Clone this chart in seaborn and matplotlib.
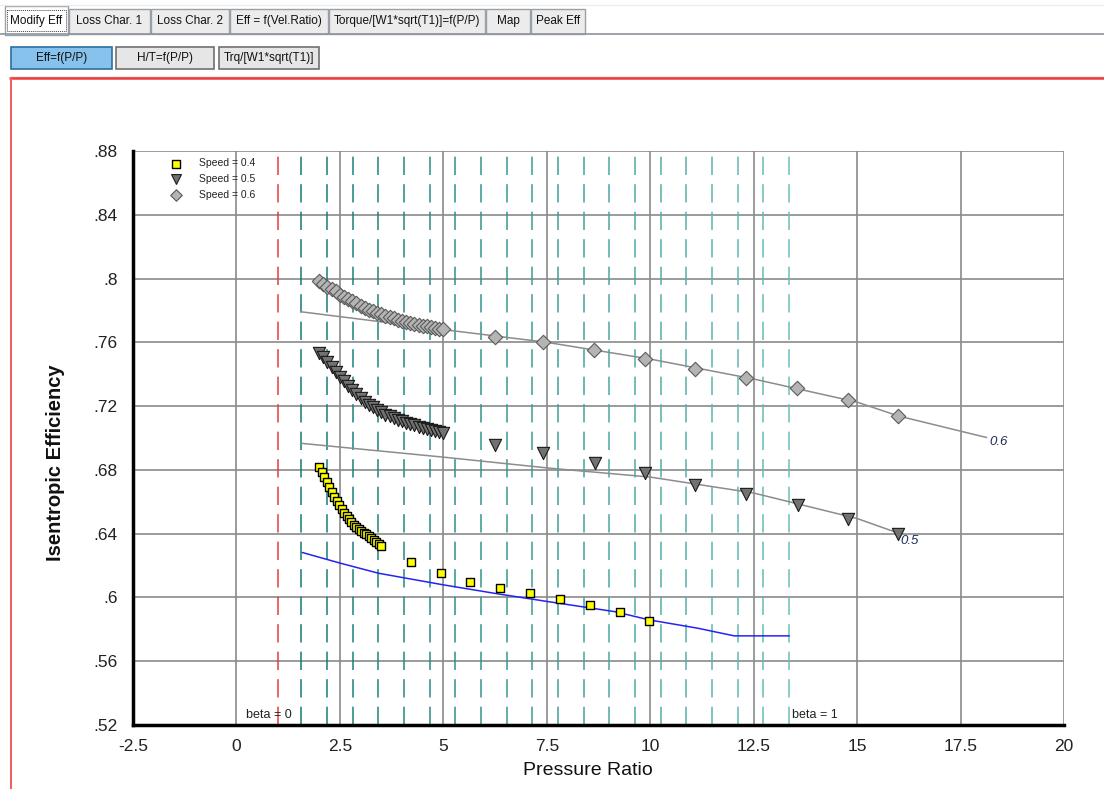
import numpy as np
import pandas as pd
import matplotlib
matplotlib.use("Agg")
import matplotlib.pyplot as plt
from matplotlib.patches import Rectangle
from matplotlib.ticker import FixedLocator, FixedFormatter
import seaborn as sns

# ---------------- data ----------------
s06_x = [2.0, 2.1, 2.2, 2.3, 2.4, 2.5, 2.6, 2.7, 2.8, 2.9, 3.0, 3.1, 3.2, 3.3, 3.4, 3.5,
         3.6, 3.7, 3.8, 3.9, 4.0, 4.1, 4.2, 4.3, 4.4, 4.5, 4.6, 4.7, 4.8, 4.9, 5.0,
         6.24, 7.42, 8.65, 9.88, 11.09, 12.32, 13.54, 14.79, 16.0]
s06_y = [.7985, .7965, .7950, .7935, .7920, .7900, .7885, .7870, .7858, .7845, .7830, .7818,
         .7805, .7795, .7785, .7775, .7765, .7757, .7750, .7742, .7735, .7728, .7722, .7715,
         .7710, .7705, .7700, .7695, .7690, .7686, .7682,
         .7634, .7600, .7555, .7496, .7433, .7377, .7314, .7239, .7136]

s05_x = [2.0, 2.1, 2.2, 2.3, 2.4, 2.5, 2.6, 2.7, 2.8, 2.9, 3.0, 3.1, 3.2, 3.3, 3.4, 3.5,
         3.6, 3.7, 3.8, 3.9, 4.0, 4.1, 4.2, 4.3, 4.4, 4.5, 4.6, 4.7, 4.8, 4.9, 5.0,
         6.24, 7.42, 8.67, 9.88, 11.09, 12.32, 13.57, 14.79, 16.0]
s05_y = [.7535, .7505, .7475, .7448, .7415, .7385, .7355, .7325, .7300, .7275, .7250, .7228,
         .7210, .7192, .7175, .7160, .7147, .7135, .7125, .7115, .7105, .7097, .7088, .7080,
         .7072, .7065, .7058, .7050, .7043, .7037, .7030,
         .6957, .6906, .6844, .6780, .6706, .6650, .6580, .6493, .6400]

s04_x = [2.00, 2.06, 2.12, 2.18, 2.24, 2.30, 2.36, 2.42, 2.48, 2.54, 2.60, 2.66, 2.72,
         2.78, 2.84, 2.90, 2.96, 3.02, 3.08, 3.14, 3.20, 3.26, 3.32, 3.38, 3.44, 3.50,
         4.21, 4.95, 5.64, 6.37, 7.09, 7.81, 8.54, 9.26, 9.97]
s04_y = [.6820, .6788, .6755, .6722, .6690, .6660, .6630, .6604, .6580, .6555, .6532, .6510,
         .6490, .6472, .6456, .6443, .6430, .6418, .6407, .6395, .6383, .6371, .6360, .6348,
         .6336, .6325,
         .6222, .6156, .6100, .6058, .6027, .5991, .5954, .5911, .5853]

line06_x = [1.55, 5.0, 7.5, 10.0, 12.5, 15.0, 16.0, 18.13]
line06_y = [.7792, .7680, .7600, .7495, .7370, .7225, .7138, .7003]
line05_x = [1.55, 5.0, 7.6, 10.0, 12.5, 15.0, 16.0]
line05_y = [.6967, .6880, .6810, .6755, .6655, .6495, .6403]
line04_x = [1.59, 2.51, 3.43, 5.0, 6.33, 7.53, 9.14, 9.98, 11.15, 12.03, 13.36]
line04_y = [.6282, .6215, .6152, .6079, .6022, .5974, .5911, .5859, .5807, .5759, .5759]

beta0_x = 1.0
beta_lines_x = [1.567, 2.19, 2.81, 3.43, 4.05, 4.67, 5.29, 5.91, 6.53, 7.15,
                7.77, 8.39, 9.01, 9.63, 10.25, 10.87, 11.49, 12.11, 12.73, 13.35]

x_ticks = [-2.5, 0, 2.5, 5, 7.5, 10, 12.5, 15, 17.5, 20]
x_tick_labels = ["-2.5", "0", "2.5", "5", "7.5", "10", "12.5", "15", "17.5", "20"]
y_ticks = [.52, .56, .60, .64, .68, .72, .76, .80, .84, .88]
y_tick_labels = [".52", ".56", ".6", ".64", ".68", ".72", ".76", ".8", ".84", ".88"]

tab_labels = ["Modify Eff", "Loss Char. 1", "Loss Char. 2", "Eff = f(Vel.Ratio)",
              "Torque/[W1*sqrt(T1)]=f(P/P)", "Map", "Peak Eff"]
button_labels = ["Eff=f(P/P)", "H/T=f(P/P)", "Trq/[W1*sqrt(T1)]"]

# ---------------- style ----------------
sns.set_theme(style="white")
plt.rcParams["font.family"] = ["Liberation Sans", "DejaVu Sans"]

W, H = 1104, 789
fig = plt.figure(figsize=(W / 100, H / 100), dpi=100)
fig.patch.set_facecolor("white")

# background UI axes in pixel coords
bg = fig.add_axes([0, 0, 1, 1], zorder=0)
bg.set_xlim(0, W)
bg.set_ylim(H, 0)
bg.axis("off")

# tab strip
bg.plot([0, W], [5, 5], color="#ececec", lw=1)
tab_edges = [(5, 68), (69, 150), (151, 229), (230, 328), (329, 485), (486, 530), (531, 585)]
bg.plot([0, W], [34, 34], color="#8e939c", lw=1.2)
for i, ((x0, x1), lab) in enumerate(zip(tab_edges, tab_labels)):
    if i == 0:
        r = Rectangle((x0, 6), x1 - x0, 29, facecolor="white", edgecolor="#9aa0a8", lw=1)
        bg.add_patch(r)
        r2 = Rectangle((x0 + 2, 10), x1 - x0 - 4, 21, facecolor="none", edgecolor="#444",
                       lw=0.7, linestyle=(0, (1, 1)))
        bg.add_patch(r2)
    else:
        r = Rectangle((x0, 9), x1 - x0, 25, facecolor="#ececec", edgecolor="#9aa0a8", lw=1)
        bg.add_patch(r)
    bg.text((x0 + x1) / 2, 21, lab, ha="center", va="center", fontsize=8.5, color="#111")

btn_edges = [(11, 112), (116, 214), (219, 319)]
for i, ((x0, x1), lab) in enumerate(zip(btn_edges, button_labels)):
    if i == 0:
        r = Rectangle((x0, 47), x1 - x0, 22, facecolor="#86c2ec", edgecolor="#2e6e9e", lw=1.2)
    else:
        r = Rectangle((x0, 47), x1 - x0, 22, facecolor="#e6e6e6", edgecolor="#707070", lw=1.2)
    bg.add_patch(r)
    bg.text((x0 + x1) / 2, 58, lab, ha="center", va="center", fontsize=8.5, color="#111")

# red panel frame
bg.plot([10, W], [76.5, 76.5], color="#b0b0b0", lw=1)
bg.plot([10, W], [78, 78], color="#f03c3c", lw=1.8)
bg.plot([10.5, 10.5], [78, H], color="#f06060", lw=1.5)

# ---------------- main chart ----------------
ax = fig.add_axes([133 / W, 1 - 725 / H, (1064 - 133) / W, (725 - 151) / H], zorder=2)
ax.set_facecolor("none")
ax.set_xlim(-2.5, 20)
ax.set_ylim(.52, .88)

ax.xaxis.set_major_locator(FixedLocator(x_ticks))
ax.xaxis.set_major_formatter(FixedFormatter(x_tick_labels))
ax.yaxis.set_major_locator(FixedLocator(y_ticks))
ax.yaxis.set_major_formatter(FixedFormatter(y_tick_labels))
ax.grid(True, color="#8a8a8a", lw=1.2, zorder=0)
ax.set_axisbelow(True)
for sp in ["top", "right"]:
    ax.spines[sp].set_visible(False)
for sp in ["left", "bottom"]:
    ax.spines[sp].set_color("black")
    ax.spines[sp].set_linewidth(2.5)
ax.tick_params(axis="both", which="major", direction="out", length=5, width=1,
               color="black", labelsize=12.5, labelcolor="#222")
ax.tick_params(axis="x", pad=5)
ax.tick_params(axis="y", pad=6)

# beta lines
ax.axvline(beta0_x, color="#e83a3c", lw=1.1, dashes=(12, 6), zorder=1)
c0 = np.array([0x12, 0x7a, 0x74]) / 255
c1 = np.array([0x6c, 0xbf, 0xb9]) / 255
for i, bx in enumerate(beta_lines_x):
    t = i / (len(beta_lines_x) - 1)
    ax.axvline(bx, color=tuple(c0 * (1 - t) + c1 * t), lw=1.1, dashes=(12, 6), zorder=1)

ax.text(0.24, 0.5228, "beta = 0", fontsize=9, color="#222", ha="left", va="bottom")
ax.text(13.42, 0.5228, "beta = 1", fontsize=9, color="#222", ha="left", va="bottom")

# fitted lines
sns.lineplot(x=line06_x, y=line06_y, ax=ax, color="#8c8c8c", lw=1.1, sort=False,
             estimator=None, zorder=3)
sns.lineplot(x=line05_x, y=line05_y, ax=ax, color="#8c8c8c", lw=1.1, sort=False,
             estimator=None, zorder=3)
sns.lineplot(x=line04_x, y=line04_y, ax=ax, color="#2424f0", lw=1.1, sort=False,
             estimator=None, zorder=3)

# points
sns.scatterplot(x=s04_x, y=s04_y, ax=ax, marker="s", s=40, color="#ffff00",
                edgecolor="black", linewidth=1.0, label="Speed = 0.4", zorder=4)
sns.scatterplot(x=s05_x, y=s05_y, ax=ax, marker="v", s=78, color="#727272",
                edgecolor="#1a1a1a", linewidth=0.8, label="Speed = 0.5", zorder=4)
sns.scatterplot(x=s06_x, y=s06_y, ax=ax, marker="D", s=54, color="#b4b4b4",
                edgecolor="#5a5a5a", linewidth=0.8, label="Speed = 0.6", zorder=4)

ax.text(18.42, .6975, "0.6", fontsize=9.5, style="italic", color="#1e2c55",
        ha="center", va="center")
ax.text(16.27, .6355, "0.5", fontsize=9.5, style="italic", color="#1e2c55",
        ha="center", va="center")

leg = ax.legend(loc="upper left", bbox_to_anchor=(0.027, 1.0), frameon=False,
                fontsize=7.5, handletextpad=1.2, labelspacing=0.55, markerscale=0.8,
                borderaxespad=0.3)
for t in leg.get_texts():
    t.set_color("#222")

ax.set_xlabel("Pressure Ratio", fontsize=14, color="#111")
ax.set_ylabel("Isentropic Efficiency", fontsize=14.5, fontweight="bold", color="#111")
ax.xaxis.set_label_coords((588 - 133) / 931, -(762 - 725) / 574)
ax.yaxis.set_label_coords(-(133 - 65) / 931, (725 - 463) / 574)

fig.savefig("out.png", dpi=100, facecolor="white")
